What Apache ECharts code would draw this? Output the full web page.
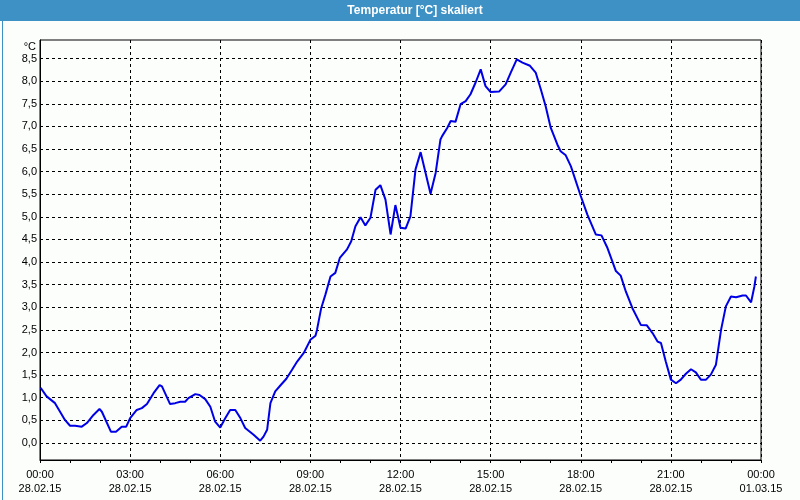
<!DOCTYPE html>
<html><head><meta charset="utf-8">
<script src="https://cdn.jsdelivr.net/npm/echarts@6/dist/echarts.min.js"></script>
<style>html,body{margin:0;padding:0;background:#fff}#c{width:800px;height:500px}</style>
</head><body><div id="c"></div>
<script>
const hours = [0.02,0.22,0.5,0.83,1.0,1.17,1.39,1.56,1.78,1.98,2.06,2.36,2.53,2.72,2.87,3.0,3.22,3.39,3.56,3.78,3.98,4.06,4.33,4.5,4.67,4.83,4.94,5.17,5.31,5.5,5.67,5.83,6.0,6.17,6.33,6.5,6.67,6.83,7.11,7.33,7.44,7.56,7.67,7.83,8.0,8.2,8.39,8.56,8.78,9.0,9.17,9.22,9.36,9.5,9.67,9.83,9.98,10.22,10.36,10.5,10.67,10.83,11.0,11.17,11.33,11.5,11.67,11.83,12.0,12.17,12.33,12.5,12.67,13.0,13.17,13.33,13.39,13.56,13.67,13.83,14.0,14.17,14.33,14.5,14.67,14.83,15.0,15.28,15.5,15.67,15.87,16.06,16.31,16.5,16.67,16.83,17.0,17.22,17.33,17.5,17.67,18.0,18.22,18.5,18.69,18.89,19.17,19.33,19.5,19.72,20.0,20.2,20.39,20.56,20.67,20.83,21.0,21.17,21.33,21.5,21.67,21.83,22.0,22.17,22.33,22.5,22.67,22.83,23.0,23.17,23.39,23.5,23.67,23.78,23.83];
const temps = [1.22,1.03,0.88,0.51,0.38,0.38,0.36,0.44,0.62,0.75,0.69,0.25,0.25,0.36,0.36,0.55,0.73,0.77,0.86,1.10,1.28,1.25,0.86,0.88,0.91,0.91,0.99,1.08,1.06,0.97,0.80,0.47,0.34,0.55,0.73,0.73,0.55,0.33,0.18,0.05,0.14,0.29,0.88,1.14,1.27,1.42,1.62,1.80,1.99,2.28,2.37,2.50,2.98,3.28,3.68,3.76,4.09,4.28,4.46,4.79,4.99,4.81,4.98,5.60,5.70,5.38,4.61,5.26,4.76,4.74,5.01,6.05,6.43,5.51,5.97,6.71,6.79,6.97,7.12,7.10,7.49,7.56,7.71,7.97,8.26,7.89,7.76,7.77,7.93,8.19,8.48,8.41,8.34,8.19,7.82,7.45,6.97,6.60,6.45,6.36,6.12,5.46,5.05,4.61,4.59,4.31,3.80,3.70,3.35,2.98,2.61,2.60,2.43,2.24,2.21,1.80,1.40,1.32,1.40,1.53,1.63,1.56,1.40,1.40,1.51,1.73,2.50,3.02,3.24,3.22,3.26,3.26,3.11,3.46,3.68];
const yTicks = [0,0.5,1,1.5,2,2.5,3,3.5,4,4.5,5,5.5,6,6.5,7,7.5,8,8.5];
const xTickTimes = ['00:00','03:00','06:00','09:00','12:00','15:00','18:00','21:00','00:00'];
const xTickDates = ['28.02.15','28.02.15','28.02.15','28.02.15','28.02.15','28.02.15','28.02.15','28.02.15','01.03.15'];
const titleText = 'Temperatur [°C] skaliert';
const unitText = '°C';

const chart = echarts.init(document.getElementById('c'), null, {renderer:'canvas'});
const font = 'Liberation Sans, Arial, sans-serif';
chart.setOption({
  animation:false,
  backgroundColor:'#fcfefc',
  graphic:[
    {type:'rect', left:0, top:0, shape:{width:800,height:21}, style:{fill:'#3d91c5'}, z:0},
    {type:'rect', left:0, top:0, shape:{x:0.5,y:0.5,width:799,height:499}, style:{fill:null, stroke:'#3d91c5', lineWidth:1}, z:0},
    {type:'text', x:415, y:11, style:{text:titleText, fill:'#fff', font:'bold 12px '+font, textAlign:'center', textVerticalAlign:'middle'}},
    {type:'text', x:36, y:47, style:{text:unitText, fill:'#000', font:'11px '+font, textAlign:'right', textVerticalAlign:'middle'}}
  ],
  grid:{left:40, right:39, top:40, bottom:40, show:true, borderColor:'#000', borderWidth:1, backgroundColor:'transparent'},
  xAxis:{
    type:'value', min:0, max:24, interval:3,
    axisLine:{show:true, onZero:false, lineStyle:{color:'#000', width:1}},
    axisTick:{show:true, length:3, lineStyle:{color:'#000'}},
    minorTick:{show:true, splitNumber:3, length:3, lineStyle:{color:'#000'}},
    splitLine:{show:true, lineStyle:{color:'#000', type:[3,3], width:1}},
    axisLabel:{margin:8, color:'#000', fontFamily:font, fontSize:11, lineHeight:14,
      formatter:(v)=>{const i=Math.round(v/3); return xTickTimes[i]+'\n'+xTickDates[i];}}
  },
  yAxis:{
    type:'value', min:-0.377, max:8.91,
    axisLine:{show:true, onZero:false, lineStyle:{color:'#000'}},
    axisTick:{show:false, customValues:yTicks},
    splitLine:{show:true, lineStyle:{color:'#000', type:[3,3], width:1}},
    axisLabel:{customValues:yTicks, margin:3, color:'#000', fontFamily:font, fontSize:11,
      formatter:(v)=>v.toFixed(1).replace('.',',')}
  },
  series:[{
    type:'line', data:hours.map((h,i)=>[h,temps[i]]), showSymbol:false,
    lineStyle:{color:'#0000e6', width:2}, itemStyle:{color:'#0000e6'}
  }]
});
</script></body></html>
